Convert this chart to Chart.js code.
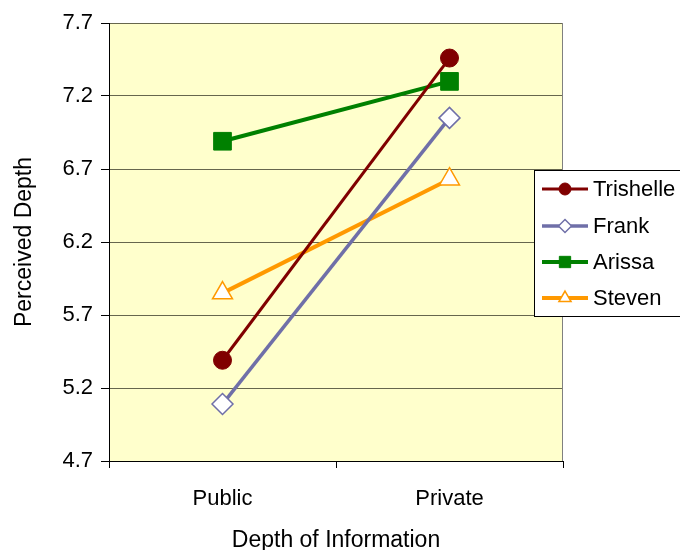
<!DOCTYPE html>
<html>
<head>
<meta charset="utf-8">
<script src="https://cdn.jsdelivr.net/npm/chart.js@4/dist/chart.umd.min.js"></script>
<style>
  html, body { margin: 0; padding: 0; background: #ffffff; }
  #wrap { width: 680px; height: 550px; }
</style>
</head>
<body>
<div id="wrap"><canvas id="c" width="680" height="550"></canvas></div>
<script>
// Perceived depth ratings by information type
const categories = ['Public', 'Private'];
const trishelle = [5.39, 7.46];
const frank = [5.09, 7.05];
const arissa = [6.89, 7.30];
const steven = [5.85, 6.63];
const yTicks = [4.7, 5.2, 5.7, 6.2, 6.7, 7.2, 7.7];

const FONT = "'Liberation Sans', Arial, sans-serif";

const series = [
  { label: 'Trishelle', data: trishelle, color: '#800000', fill: '#800000', style: 'circle', r: 9, lr: 6, bw: 1, lw: 3 },
  { label: 'Frank', data: frank, color: '#6f6fa8', fill: '#ffffff', style: 'rectRot', r: 10.5, lr: 6.5, bw: 1.5, lw: 3.5 },
  { label: 'Arissa', data: arissa, color: '#008000', fill: '#008000', style: 'rect', r: 12.5, lr: 8, bw: 1, lw: 4 },
  { label: 'Steven', data: steven, color: '#ff9900', fill: '#ffffff', style: 'triangle', r: 11.5, lr: 7, bw: 1.5, lw: 4 }
];

// Plot background and right-hand frame line
const plotBg = {
  id: 'plotBg',
  beforeDraw(chart) {
    const { ctx, chartArea: a } = chart;
    ctx.save();
    ctx.fillStyle = '#ffffcc';
    ctx.fillRect(a.left, a.top, a.right - a.left, a.bottom - a.top);
    ctx.restore();
  },
  beforeDatasetsDraw(chart) {
    const { ctx, chartArea: a } = chart;
    ctx.save();
    ctx.strokeStyle = '#808080';
    ctx.lineWidth = 1;
    ctx.beginPath();
    ctx.moveTo(a.right - 0.5, a.top);
    ctx.lineTo(a.right - 0.5, a.bottom);
    ctx.stroke();
    ctx.restore();
  }
};

// Boxed legend drawn on top of the plot's right edge
const boxLegend = {
  id: 'boxLegend',
  afterDraw(chart) {
    const ctx = chart.ctx;
    const left = 534.5, top = 170.5, width = 160, height = 146;
    ctx.save();
    ctx.fillStyle = '#ffffff';
    ctx.strokeStyle = '#000000';
    ctx.lineWidth = 1;
    ctx.fillRect(left, top, width, height);
    ctx.strokeRect(left, top, width, height);
    const rowY = [189, 226, 262, 298];
    chart.data.datasets.forEach((ds, i) => {
      const y = rowY[i];
      ctx.strokeStyle = ds.borderColor;
      ctx.lineWidth = ds.borderWidth;
      ctx.beginPath();
      ctx.moveTo(542, y);
      ctx.lineTo(588, y);
      ctx.stroke();
      ctx.fillStyle = ds.pointBackgroundColor;
      ctx.strokeStyle = ds.pointBorderColor;
      ctx.lineWidth = ds.pointBorderWidth;
      Chart.helpers.drawPoint(ctx, {
        pointStyle: ds.pointStyle,
        radius: series[i].lr,
        borderWidth: ds.pointBorderWidth,
        rotation: 0
      }, 565, y);
      ctx.fillStyle = '#000000';
      ctx.font = '22px ' + FONT;
      ctx.textAlign = 'left';
      ctx.textBaseline = 'middle';
      ctx.fillText(ds.label, 593, y + 1);
    });
    ctx.restore();
  }
};

new Chart(document.getElementById('c'), {
  type: 'line',
  data: {
    labels: categories,
    datasets: series.map(s => ({
      label: s.label,
      data: s.data,
      borderColor: s.color,
      backgroundColor: s.color,
      borderWidth: s.lw,
      pointStyle: s.style,
      pointRadius: s.r,
      pointHoverRadius: s.r,
      pointBackgroundColor: s.fill,
      pointBorderColor: s.color,
      pointBorderWidth: s.bw,
      tension: 0,
      fill: false
    }))
  },
  options: {
    responsive: false,
    animation: false,
    layout: { padding: { left: 0, right: 117, top: 23, bottom: 0 } },
    plugins: {
      legend: { display: false },
      tooltip: { enabled: false }
    },
    scales: {
      x: {
        type: 'category',
        offset: true,
        grid: {
          offset: true,
          drawOnChartArea: false,
          drawTicks: true,
          tickLength: 7,
          tickColor: '#000000'
        },
        border: { color: '#000000', width: 1 },
        ticks: {
          color: '#000000',
          font: { family: FONT, size: 22 },
          padding: 18,
          maxRotation: 0
        },
        title: {
          display: true,
          text: 'Depth of Information',
          color: '#000000',
          font: { family: FONT, size: 23 },
          padding: { top: 0, bottom: -4 }
        },
        afterFit(scale) { scale.height = 89; }
      },
      y: {
        type: 'linear',
        min: 4.7,
        max: 7.7,
        afterBuildTicks(scale) {
          scale.ticks = yTicks.map(v => ({ value: v }));
        },
        grid: {
          color: '#66664d',
          lineWidth: 1,
          drawTicks: true,
          tickLength: 8,
          tickColor: '#000000'
        },
        border: { color: '#000000', width: 1 },
        ticks: {
          color: '#000000',
          font: { family: FONT, size: 22 },
          padding: 8,
          callback: v => Number(v).toFixed(1)
        },
        title: {
          display: true,
          text: 'Perceived Depth',
          color: '#000000',
          font: { family: FONT, size: 23 },
          padding: { top: 11, bottom: 0 }
        },
        afterFit(scale) { scale.width = 109; }
      }
    }
  },
  plugins: [plotBg, boxLegend]
});
</script>
</body>
</html>
